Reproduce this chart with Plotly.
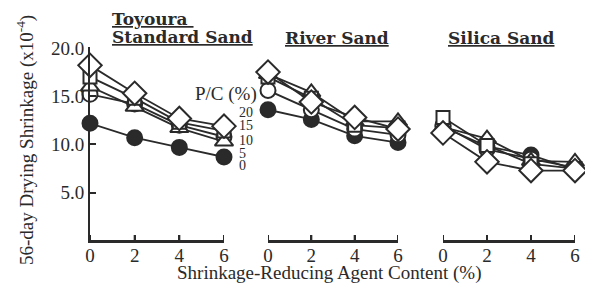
import plotly.graph_objects as go

OFF = 8            # page body margin
W, H = 593 - OFF, 293 - OFF
sra = [0, 2, 4, 6]
pc_levels = ["0", "5", "10", "15", "20"]

toyoura = {
    "0": [12.2, 10.7, 9.7, 8.7],
    "5": [15.2, 14.2, 12.0, 10.8],
    "10": [16.0, 13.9, 11.7, 10.3],
    "15": [17.0, 14.8, 12.3, 11.4],
    "20": [18.2, 15.3, 12.7, 11.9],
}
river = {
    "0": [13.6, 12.6, 10.9, 10.2],
    "5": [15.6, 13.6, 11.6, 11.0],
    "10": [17.3, 15.4, 12.4, 12.4],
    "15": [17.0, 14.8, 12.0, 11.7],
    "20": [17.5, 14.4, 12.8, 11.6],
}
silica = {
    "0": [11.8, 9.8, 8.9, 7.4],
    "5": [12.0, 9.5, 8.5, 7.6],
    "10": [11.8, 10.6, 8.3, 8.2],
    "15": [12.8, 9.9, 8.0, 7.5],
    "20": [11.2, 8.2, 7.3, 7.3],
}
panels = [toyoura, river, silica]
title_lines = [("<u>Toyoura </u>", 110, 19), ("<u>Standard Sand</u>", 110, 37),
               ("<u>River Sand</u>", 283, 38), ("<u>Silica Sand</u>", 446, 38)]
y_ticks = [5.0, 10.0, 15.0, 20.0]
y_ticklabels = ["5.0", "10.0", "15.0", "20.0"]

INK = "#2a2a2a"
FONT = "Liberation Serif"
TITLE_FONT = "DejaVu Serif"
marker_style = {
    "0": dict(symbol="circle", size=15, color=INK),
    "5": dict(symbol="circle", size=15, color="white"),
    "10": dict(symbol="triangle-up", size=16, color="white"),
    "15": dict(symbol="square", size=13, color="white"),
    "20": dict(symbol="diamond", size=18, color="white"),
}

px_x = [(90, 224), (268, 398), (443, 575)]
y_bot, y_top = 241, 47


def fx(px):
    return (px - OFF) / W


def fy(py):
    return 1 - (py - OFF) / H


fig = go.Figure()
for i, data in enumerate(panels):
    xa = "x" if i == 0 else f"x{i+1}"
    for lv in pc_levels:
        ms = marker_style[lv]
        fig.add_trace(go.Scatter(
            x=sra, y=data[lv], xaxis=xa, yaxis="y", mode="lines+markers",
            line=dict(color=INK, width=1.8),
            marker=dict(symbol=ms["symbol"], size=ms["size"], color=ms["color"],
                        line=dict(color=INK, width=2)),
            cliponaxis=False, showlegend=False, name=f"P/C {lv}%"))

fig.update_layout(
    width=W, height=H, margin=dict(l=0, r=0, t=0, b=0, pad=0, autoexpand=False),
    paper_bgcolor="white", plot_bgcolor="rgba(0,0,0,0)",
    font=dict(family=FONT, color=INK, size=18),
)
for i, (a, b) in enumerate(px_x):
    key = "xaxis" if i == 0 else f"xaxis{i+1}"
    fig.layout[key] = dict(
        domain=[fx(a), fx(b)], range=[0, 6], anchor="y",
        tickvals=sra, ticktext=[str(v) for v in sra],
        ticks="inside", ticklen=6, tickwidth=2, tickcolor=INK,
        showline=True, linecolor=INK, linewidth=2,
        showgrid=False, zeroline=False, ticklabelstandoff=-4,
        tickfont=dict(size=19, family=FONT, color=INK),
    )
fig.layout["yaxis"] = dict(
    domain=[fy(y_bot), fy(y_top)], range=[0, 20.1], anchor="x",
    tickvals=y_ticks, ticktext=y_ticklabels,
    ticks="inside", ticklen=6, tickwidth=2, tickcolor=INK,
    showline=True, linecolor=INK, linewidth=2, showgrid=False, zeroline=False,
    automargin=False,
    tickfont=dict(size=19, family=FONT, color=INK),
)

# x-axis baselines and tick marks drawn as shapes (robust against first-draw quirk)
tick_frac = 6 / (y_bot - y_top)
shapes = []
for i in range(3):
    xr = "x" if i == 0 else f"x{i+1}"
    shapes.append(dict(type="line", xref=f"{xr} domain", yref="y domain",
                       x0=0, x1=1, y0=0, y1=0, layer="above",
                       line=dict(color=INK, width=2)))
    for v in sra:
        shapes.append(dict(type="line", xref=xr, yref="y domain",
                           x0=v, x1=v, y0=0, y1=tick_frac, layer="above",
                           line=dict(color=INK, width=2)))
fig.update_layout(shapes=shapes)

ann = []
title_font = dict(family=TITLE_FONT, size=17, color=INK, weight="bold")
for txt, xx, yy in title_lines:
    ann.append(dict(text=txt, x=fx(xx), y=fy(yy), xref="paper", yref="paper",
                    xanchor="left", yanchor="middle", showarrow=False, font=title_font))
ann.append(dict(text="P/C (%)", x=fx(259), y=fy(94), xref="paper", yref="paper",
                xanchor="right", yanchor="middle", showarrow=False,
                font=dict(family=FONT, size=19, color=INK)))
leg_y = {"20": 112, "15": 126, "10": 140, "5": 153, "0": 165}
for lv, yy in leg_y.items():
    ann.append(dict(text=lv, x=fx(237), y=fy(yy), xref="paper", yref="paper",
                    xanchor="left", yanchor="middle", showarrow=False,
                    font=dict(family=FONT, size=14, color=INK)))
ann.append(dict(text="Shrinkage-Reducing Agent Content (%)", x=fx(329), y=fy(273),
                xref="paper", yref="paper", xanchor="center", yanchor="middle",
                showarrow=False, font=dict(family=FONT, size=19, color=INK)))
ann.append(dict(text="56-day Drying Shrinkage (x10<sup>-4</sup>)", x=fx(25), y=fy(140),
                xref="paper", yref="paper", xanchor="center", yanchor="middle",
                textangle=-90, showarrow=False, font=dict(family=FONT, size=19, color=INK)))
fig.update_layout(annotations=ann)

fig.write_html("out.html")
